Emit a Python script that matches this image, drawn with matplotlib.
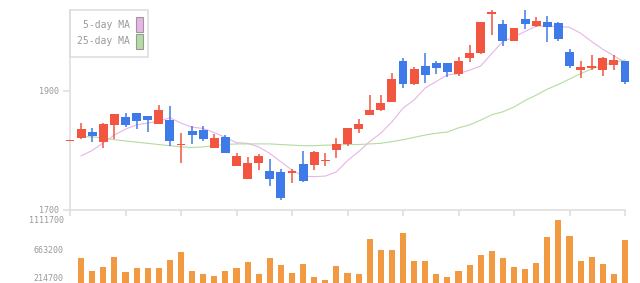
import matplotlib.pyplot as plt
import matplotlib.transforms as mtransforms
import numpy as np
from matplotlib.patches import Rectangle

# daily prices (index 0 = left edge of the chart)
opens = [1817, 1821, 1831, 1814, 1843, 1856, 1863, 1858, 1844, 1851,
         1810, 1833, 1834, 1804, 1823, 1774, 1752, 1779, 1765, 1764,
         1762, 1777, 1776, 1783, 1801, 1811, 1836, 1860, 1868, 1881,
         1950, 1912, 1942, 1947, 1947, 1929, 1955, 1964, 2029, 2013,
         1984, 2021, 2009, 2016, 2014, 1965, 1935, 1939, 1935, 1944,
         1950]
closes = [1817, 1836, 1824, 1844, 1861, 1843, 1850, 1851, 1868, 1816,
          1810, 1826, 1819, 1821, 1796, 1791, 1779, 1791, 1752, 1720,
          1765, 1749, 1797, 1783, 1811, 1838, 1844, 1868, 1880, 1920,
          1912, 1937, 1927, 1939, 1932, 1950, 1964, 2016, 2033, 1984,
          2006, 2013, 2018, 2008, 1987, 1942, 1940, 1942, 1955, 1952,
          1915]
highs = [1817, 1846, 1838, 1846, 1861, 1863, 1863, 1858, 1876, 1875,
         1829, 1841, 1841, 1828, 1826, 1796, 1789, 1794, 1786, 1769,
         1769, 1799, 1799, 1796, 1821, 1838, 1853, 1893, 1893, 1930,
         1955, 1940, 1964, 1950, 1947, 1957, 1977, 2016, 2036, 2019,
         2006, 2036, 2024, 2026, 2016, 1971, 1950, 1960, 1957, 1960,
         1950]
lows = [1817, 1820, 1814, 1805, 1820, 1840, 1836, 1831, 1844, 1808,
        1779, 1811, 1816, 1804, 1796, 1774, 1752, 1767, 1740, 1717,
        1745, 1747, 1767, 1774, 1787, 1808, 1829, 1860, 1866, 1881,
        1905, 1910, 1913, 1929, 1923, 1925, 1949, 1962, 1994, 1976,
        1984, 2004, 2008, 1982, 1984, 1939, 1922, 1935, 1925, 1935,
        1912]
volumes = [0, 543600, 349300, 409100, 558600, 334300, 394100, 394100, 394100, 513700,
           633300, 349300, 304400, 274500, 349300, 394100, 483800, 304400, 543600, 439000,
           319400, 453900, 259600, 214700, 424000, 319400, 304400, 827700, 663200, 663200,
           917400, 498800, 498800, 304400, 259600, 349300, 439000, 588500, 648300, 543600,
           409100, 379200, 468900, 857600, 1111700, 872500, 498800, 558600, 453900, 304400,
           812700]
ma5 = [np.nan, 1791, 1800, 1813, 1826, 1836, 1843, 1846, 1849, 1855,
       1846, 1839, 1837, 1830, 1822, 1813, 1812, 1806, 1795, 1781,
       1767, 1757, 1756, 1757, 1764, 1783, 1798, 1815, 1829, 1848,
       1871, 1885, 1905, 1916, 1927, 1929, 1935, 1942, 1963, 1983,
       1991, 2000, 2009, 2009, 2008, 2007, 1997, 1983, 1970, 1959,
       1948]
ma25 = [np.nan, 1823, 1823, 1821, 1818, 1816, 1814, 1812, 1810, 1808,
        1806, 1805, 1806, 1808, 1810, 1811, 1811, 1811, 1811, 1810,
        1809, 1808, 1808, 1809, 1809, 1810, 1810, 1811, 1812, 1815,
        1818, 1822, 1826, 1829, 1831, 1838, 1843, 1851, 1860, 1865,
        1873, 1884, 1893, 1903, 1911, 1920, 1929, 1937, 1943, 1948,
        1952]
price_ticks = [1700, 1900]
vol_ticks = [214700, 663200, 1111700]

W, H = 640, 283
RED, BLUE, ORANGE = '#f25540', '#3f7be8', '#f29a42'
PINK, GREEN = '#e8b4e8', '#b4dca2'
AXC, TXT = '#dddddd', '#999999'
FONT = 'DejaVu Sans Mono'

fig = plt.figure(figsize=(W / 100, H / 100), dpi=100)


def fx(px):
    return px / W


def fy(py):
    return 1 - py / H


x = np.arange(len(opens))

# price panel
ax = fig.add_axes([fx(70), fy(210), fx(625) - fx(70), (200) / H])
ax.set_xlim(0, len(opens) - 1)
ax.set_ylim(1700, max(highs))

ax.plot(x, ma5, color=PINK, lw=0.8, zorder=2, clip_on=False)
ax.plot(x, ma25, color=GREEN, lw=0.8, zorder=2, clip_on=False)

for i in range(len(opens)):
    o, c = opens[i], closes[i]
    col = RED if c >= o else BLUE
    ax.vlines(i, lows[i], highs[i], color=col, lw=1.1, zorder=3, clip_on=False)
    h = max(abs(c - o), 1.6)
    ax.bar(i, h, bottom=min(o, c) - (h - abs(c - o)) / 2, width=0.8,
           color=col, zorder=4, clip_on=False)

for s in ['top', 'right']:
    ax.spines[s].set_visible(False)
for s in ['left', 'bottom']:
    ax.spines[s].set_color(AXC)
    ax.spines[s].set_linewidth(1.1)
ax.set_xticks(np.arange(0, len(opens), 5))
ax.set_xticklabels([])
ax.tick_params(axis='x', length=4, width=1.1, color=AXC)
ax.set_yticks(price_ticks)
ax.set_yticklabels([str(t) for t in price_ticks], fontsize=6, color=TXT,
                   family=FONT)
ax.tick_params(axis='y', length=5, width=1.1, color=AXC, pad=3)

# legend box
fig.patches.append(Rectangle((fx(70), fy(57)), fx(148) - fx(70), (57 - 10) / H,
                             transform=fig.transFigure, fill=False,
                             edgecolor=AXC, lw=1.1))
for label, col, yc in [('5-day MA', PINK, 24.5), ('25-day MA', GREEN, 41.5)]:
    fig.text(fx(130), fy(yc), label, ha='right', va='center', fontsize=7,
             color=TXT, family=FONT)
    fig.patches.append(Rectangle((fx(136), fy(yc + 7)), fx(142.5) - fx(136), 14 / H,
                                 transform=fig.transFigure, facecolor=col,
                                 edgecolor='#999999', lw=0.8))

# volume panel
top_px, base_px, min_px = 219.7, 283.0, 279.7
per_px = (max(vol_ticks) - min(vol_ticks)) / (min_px - top_px)
vax = fig.add_axes([fx(70), 0, fx(625) - fx(70), (base_px - top_px) / H])
vax.set_xlim(0, len(opens) - 1)
vax.set_ylim(min(vol_ticks) - (base_px - min_px) * per_px, max(vol_ticks))
vax.bar(x, volumes, width=0.55, color=ORANGE, clip_on=False)
for s in vax.spines.values():
    s.set_visible(False)
vax.set_xticks([])
vax.set_yticks(vol_ticks)
vax.set_yticklabels([str(t) for t in vol_ticks], fontsize=6, color=TXT,
                    family=FONT)
vax.tick_params(axis='y', length=0, pad=4.5)
# lift the lowest label a little so it stays inside the picture
low_lbl = vax.get_yticklabels()[0]
low_lbl.set_transform(low_lbl.get_transform() +
                      mtransforms.ScaledTranslation(0, 2 / 100, fig.dpi_scale_trans))

fig.savefig('out.png', dpi=100)
